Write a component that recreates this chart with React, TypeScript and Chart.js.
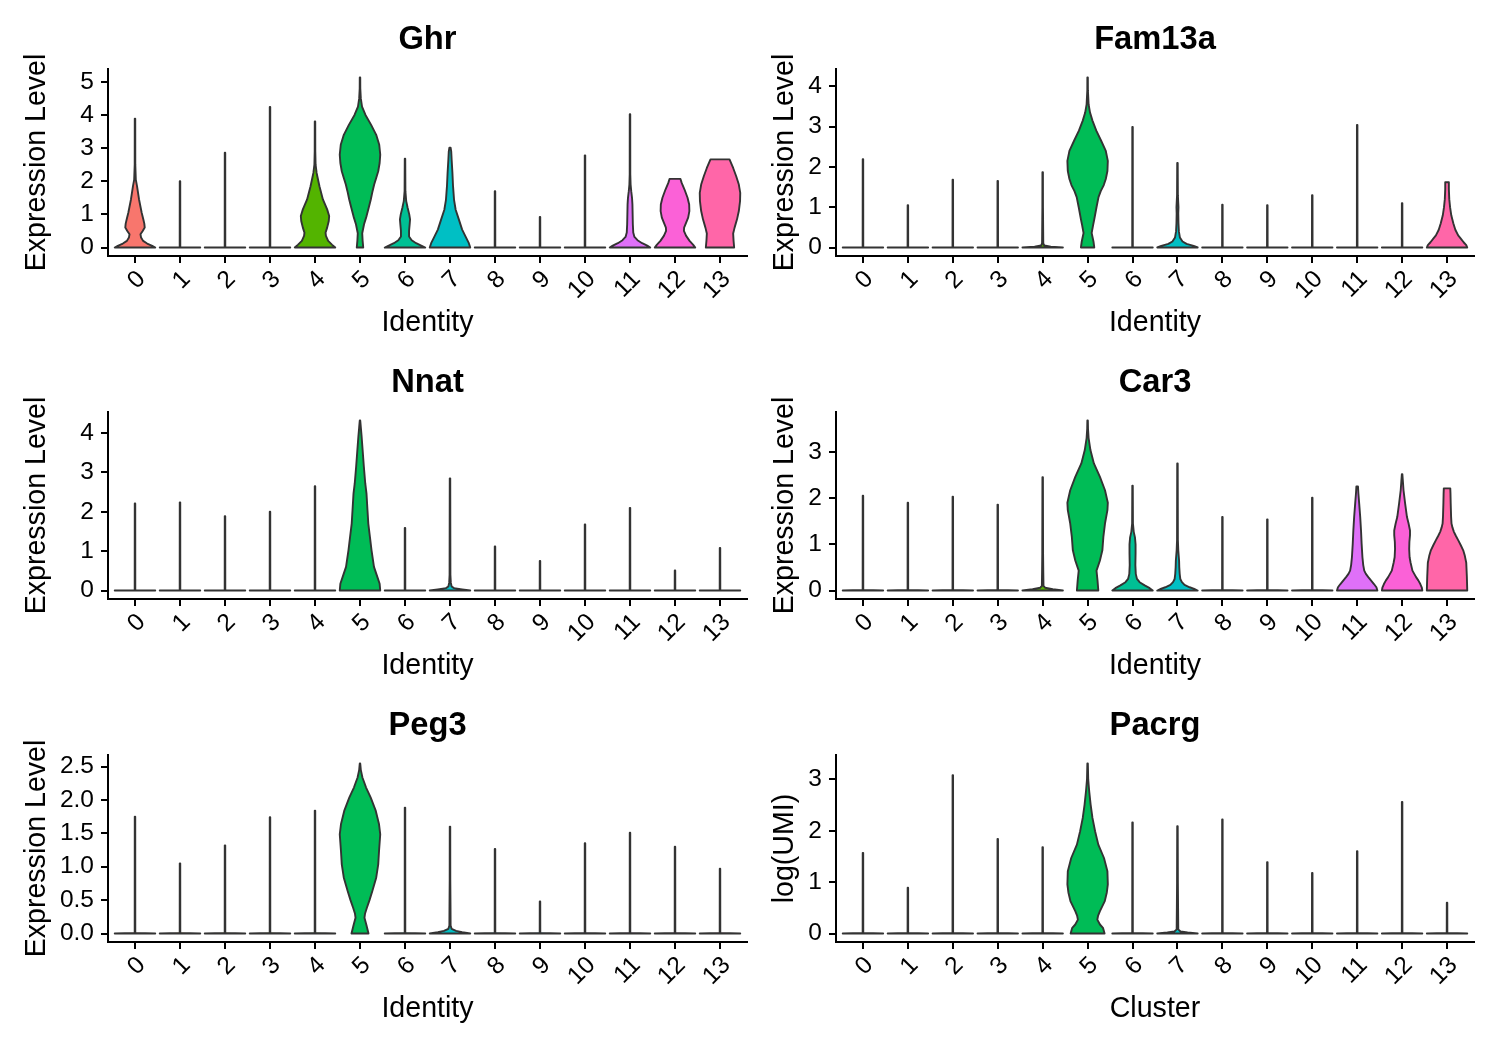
import React, { useEffect, useRef } from 'react';
import { Chart, registerables } from 'chart.js';

Chart.register(...registerables);

const FONT = "'Liberation Sans', Arial, Helvetica, sans-serif";

type Profile = [number, number][];

const clusters = ['0', '1', '2', '3', '4', '5', '6', '7', '8', '9', '10', '11', '12', '13'];
const clusterColors = [
  '#F8766D', '#E38900', '#C49A00', '#99A800', '#53B400', '#00BC56', '#00C094',
  '#00BFC4', '#00B6EB', '#06A4FF', '#A58AFF', '#DF70F8', '#FB61D7', '#FF66A8',
];

// Violins that are almost all zeros: a full-width foot and a hair-thin tail.
const spikeProfile: Profile = [[0, 1], [0.01, 0.015]];

// ---- Ghr ----
const ghrTops = [3.89, 2.0, 2.86, 4.24, 3.8, 5.13, 2.68, 3.01, 1.7, 0.92, 2.78, 4.02, 2.07, 2.66];
const ghrShapes: Record<number, Profile> = {
  0: [[0, 1], [0.05, 0.85], [0.12, 0.6], [0.2, 0.4], [0.3, 0.3], [0.4, 0.27], [0.5, 0.38], [0.6, 0.48], [0.72, 0.46], [0.85, 0.41], [1.05, 0.33], [1.45, 0.2], [1.85, 0.1], [2.05, 0.04], [2.5, 0.015]],
  4: [[0, 1], [0.08, 0.85], [0.2, 0.65], [0.35, 0.54], [0.45, 0.52], [0.6, 0.6], [0.8, 0.68], [0.95, 0.7], [1.15, 0.6], [1.45, 0.39], [1.85, 0.22], [2.25, 0.08], [2.5, 0.03], [2.9, 0.015]],
  5: [[0, 0.16], [0.2, 0.13], [0.43, 0.11], [0.7, 0.2], [0.94, 0.32], [1.2, 0.43], [1.44, 0.53], [1.7, 0.62], [1.9, 0.7], [2.1, 0.8], [2.3, 0.9], [2.55, 0.97], [2.8, 1.0], [3.1, 0.95], [3.4, 0.8], [3.7, 0.55], [4.0, 0.27], [4.25, 0.1], [4.5, 0.04], [4.8, 0.015]],
  6: [[0, 1], [0.06, 0.8], [0.13, 0.55], [0.22, 0.33], [0.33, 0.2], [0.5, 0.2], [0.7, 0.23], [0.85, 0.25], [1.0, 0.21], [1.2, 0.13], [1.4, 0.06], [1.7, 0.02]],
  7: [[0, 1], [0.13, 0.93], [0.33, 0.77], [0.54, 0.6], [0.84, 0.44], [1.14, 0.28], [1.44, 0.2], [1.85, 0.15], [2.25, 0.12], [2.66, 0.08], [2.9, 0.06], [3.01, 0.03]],
  11: [[0, 1], [0.06, 0.85], [0.13, 0.6], [0.22, 0.37], [0.32, 0.22], [0.45, 0.16], [0.7, 0.14], [1.0, 0.13], [1.3, 0.12], [1.5, 0.1], [1.7, 0.06], [1.9, 0.03], [2.2, 0.015]],
  12: [[0, 1], [0.08, 0.9], [0.2, 0.72], [0.35, 0.55], [0.5, 0.44], [0.6, 0.45], [0.75, 0.55], [0.9, 0.65], [1.1, 0.71], [1.3, 0.7], [1.5, 0.62], [1.75, 0.47], [1.95, 0.33], [2.07, 0.27]],
  13: [[0, 0.7], [0.2, 0.67], [0.42, 0.65], [0.6, 0.72], [0.85, 0.84], [1.1, 0.93], [1.4, 0.99], [1.65, 1.0], [1.9, 0.93], [2.15, 0.8], [2.4, 0.65], [2.66, 0.47]],
};
const ghrTicks = [0, 1, 2, 3, 4, 5];
const ghrTickLabels = ['0', '1', '2', '3', '4', '5'];

// ---- Fam13a ----
const fam13aTops = [2.19, 1.05, 1.68, 1.65, 1.87, 4.22, 2.99, 2.1, 1.06, 1.05, 1.3, 3.04, 1.1, 1.62];
const fam13aShapes: Record<number, Profile> = {
  4: [[0, 1], [0.02, 0.4], [0.05, 0.08], [0.1, 0.03], [0.4, 0.025], [0.7, 0.02], [1.0, 0.015]],
  5: [[0, 0.33], [0.15, 0.29], [0.36, 0.2], [0.55, 0.27], [0.7, 0.33], [1.0, 0.44], [1.25, 0.54], [1.4, 0.65], [1.55, 0.8], [1.7, 0.9], [1.9, 0.98], [2.15, 1.0], [2.4, 0.9], [2.65, 0.67], [2.9, 0.43], [3.15, 0.24], [3.35, 0.12], [3.55, 0.05], [3.9, 0.015]],
  7: [[0, 1], [0.04, 0.8], [0.09, 0.45], [0.15, 0.25], [0.25, 0.12], [0.4, 0.07], [0.6, 0.05], [0.85, 0.04], [1.0, 0.05], [1.1, 0.04], [1.3, 0.02]],
  13: [[0, 1], [0.06, 0.95], [0.13, 0.82], [0.22, 0.68], [0.3, 0.55], [0.44, 0.41], [0.6, 0.31], [0.8, 0.21], [1.0, 0.15], [1.2, 0.11], [1.45, 0.09], [1.62, 0.09]],
};
const fam13aTicks = [0, 1, 2, 3, 4];
const fam13aTickLabels = ['0', '1', '2', '3', '4'];

// ---- Nnat ----
const nnatTops = [2.21, 2.24, 1.89, 2.0, 2.65, 4.32, 1.59, 2.85, 1.12, 0.75, 1.68, 2.1, 0.51, 1.08];
const nnatShapes: Record<number, Profile> = {
  5: [[0, 1], [0.17, 0.97], [0.34, 0.86], [0.6, 0.69], [1.02, 0.57], [1.36, 0.49], [1.7, 0.41], [2.04, 0.37], [2.47, 0.32], [2.72, 0.26], [3.15, 0.19], [3.57, 0.13], [3.91, 0.08], [4.15, 0.04]],
  7: [[0, 1], [0.03, 0.6], [0.06, 0.2], [0.1, 0.08], [0.2, 0.04], [0.4, 0.02]],
};
const nnatTicks = [0, 1, 2, 3, 4];
const nnatTickLabels = ['0', '1', '2', '3', '4'];

// ---- Car3 ----
const car3Tops = [2.05, 1.9, 2.03, 1.86, 2.45, 3.68, 2.27, 2.75, 1.59, 1.54, 2.01, 2.25, 2.52, 2.21];
const car3Shapes: Record<number, Profile> = {
  4: [[0, 1], [0.03, 0.5], [0.06, 0.12], [0.1, 0.04], [0.4, 0.03], [0.8, 0.02]],
  5: [[0, 0.53], [0.22, 0.49], [0.43, 0.44], [0.65, 0.61], [0.87, 0.73], [1.16, 0.78], [1.45, 0.86], [1.74, 0.98], [1.9, 1.0], [2.17, 0.86], [2.46, 0.61], [2.75, 0.31], [3.04, 0.14], [3.3, 0.05], [3.5, 0.02]],
  6: [[0, 1], [0.05, 0.85], [0.11, 0.6], [0.18, 0.35], [0.25, 0.22], [0.36, 0.16], [0.55, 0.14], [0.8, 0.15], [1.0, 0.15], [1.15, 0.12], [1.27, 0.06], [1.45, 0.02]],
  7: [[0, 1], [0.04, 0.8], [0.07, 0.6], [0.12, 0.35], [0.18, 0.22], [0.25, 0.14], [0.36, 0.11], [0.5, 0.09], [0.65, 0.08], [0.87, 0.04], [1.1, 0.02]],
  11: [[0, 1], [0.07, 0.95], [0.14, 0.83], [0.22, 0.68], [0.29, 0.55], [0.36, 0.43], [0.43, 0.35], [0.55, 0.3], [0.72, 0.26], [1.01, 0.22], [1.3, 0.19], [1.59, 0.15], [1.88, 0.1], [2.1, 0.06], [2.25, 0.04]],
  12: [[0, 1], [0.07, 0.97], [0.14, 0.9], [0.22, 0.8], [0.29, 0.69], [0.43, 0.51], [0.6, 0.42], [0.72, 0.37], [0.9, 0.35], [1.05, 0.36], [1.2, 0.39], [1.3, 0.39], [1.45, 0.32], [1.59, 0.24], [1.88, 0.15], [2.17, 0.07], [2.35, 0.04]],
  13: [[0, 1], [0.3, 0.98], [0.6, 0.95], [0.75, 0.88], [0.87, 0.8], [0.98, 0.68], [1.09, 0.55], [1.18, 0.44], [1.27, 0.34], [1.36, 0.27], [1.45, 0.22], [1.6, 0.2], [1.9, 0.18], [2.1, 0.17], [2.21, 0.16]],
};
const car3Ticks = [0, 1, 2, 3];
const car3TickLabels = ['0', '1', '2', '3'];

// ---- Peg3 ----
const peg3Tops = [1.75, 1.05, 1.32, 1.74, 1.84, 2.545, 1.885, 1.6, 1.265, 0.48, 1.35, 1.51, 1.3, 0.97];
const peg3Shapes: Record<number, Profile> = {
  5: [[0, 0.42], [0.135, 0.31], [0.235, 0.22], [0.3, 0.25], [0.385, 0.34], [0.5, 0.47], [0.635, 0.61], [0.835, 0.8], [1.035, 0.9], [1.235, 0.94], [1.485, 1.0], [1.635, 0.94], [1.835, 0.78], [2.035, 0.53], [2.185, 0.3], [2.335, 0.12], [2.45, 0.04]],
  7: [[0, 1], [0.02, 0.6], [0.04, 0.3], [0.07, 0.08], [0.12, 0.03], [0.4, 0.025], [0.8, 0.015]],
};
const peg3Ticks = [0, 0.5, 1, 1.5, 2, 2.5];
const peg3TickLabels = ['0.0', '0.5', '1.0', '1.5', '2.0', '2.5'];

// ---- Pacrg ----
const pacrgTops = [1.57, 0.89, 3.08, 1.84, 1.68, 3.31, 2.16, 2.09, 2.22, 1.39, 1.18, 1.6, 2.56, 0.6];
const pacrgShapes: Record<number, Profile> = {
  5: [[0, 0.84], [0.11, 0.76], [0.175, 0.61], [0.27, 0.48], [0.35, 0.52], [0.435, 0.61], [0.63, 0.85], [0.8, 0.95], [0.955, 1.0], [1.21, 0.98], [1.47, 0.81], [1.73, 0.53], [1.99, 0.37], [2.25, 0.24], [2.51, 0.15], [2.77, 0.08], [3.0, 0.03]],
  7: [[0, 1], [0.02, 0.5], [0.04, 0.15], [0.08, 0.04], [0.5, 0.03], [1.0, 0.02]],
};
const pacrgTicks = [0, 1, 2, 3];
const pacrgTickLabels = ['0', '1', '2', '3'];

interface PanelSpec {
  gene: string;
  yTitle: string;
  xTitle: string;
  tops: number[];
  shapes: Record<number, Profile>;
  ticks: number[];
  tickLabels: string[];
  col: number;
  row: number;
}

const panels: PanelSpec[] = [
  { gene: 'Ghr', yTitle: 'Expression Level', xTitle: 'Identity', tops: ghrTops, shapes: ghrShapes, ticks: ghrTicks, tickLabels: ghrTickLabels, col: 0, row: 0 },
  { gene: 'Fam13a', yTitle: 'Expression Level', xTitle: 'Identity', tops: fam13aTops, shapes: fam13aShapes, ticks: fam13aTicks, tickLabels: fam13aTickLabels, col: 1, row: 0 },
  { gene: 'Nnat', yTitle: 'Expression Level', xTitle: 'Identity', tops: nnatTops, shapes: nnatShapes, ticks: nnatTicks, tickLabels: nnatTickLabels, col: 0, row: 1 },
  { gene: 'Car3', yTitle: 'Expression Level', xTitle: 'Identity', tops: car3Tops, shapes: car3Shapes, ticks: car3Ticks, tickLabels: car3TickLabels, col: 1, row: 1 },
  { gene: 'Peg3', yTitle: 'Expression Level', xTitle: 'Identity', tops: peg3Tops, shapes: peg3Shapes, ticks: peg3Ticks, tickLabels: peg3TickLabels, col: 0, row: 2 },
  { gene: 'Pacrg', yTitle: 'log(UMI)', xTitle: 'Cluster', tops: pacrgTops, shapes: pacrgShapes, ticks: pacrgTicks, tickLabels: pacrgTickLabels, col: 1, row: 2 },
];

const CANVAS_W = 750;
const CANVAS_H = 343;
const TICK_SIZE = 24.5;
const AXIS_TITLE_SIZE = 28.6;
const TITLE_SIZE = 32.7;
// column-dependent geometry (the left column carries wider tick labels)
const axisWidth = [108, 86];
const rightPad = [3, 26];
const yTitlePad = [20.3, 17.8];

function makeViolinPlugin(shapes: Record<number, Profile>) {
  return {
    id: 'violins',
    afterDatasetsDraw(chart: any) {
      const { ctx } = chart;
      const xs = chart.scales.x;
      const ys = chart.scales.y;
      const pts = chart.data.datasets[0].data as { x: number; y: number }[];
      ctx.save();
      ctx.lineJoin = 'round';
      ctx.lineCap = 'round';
      ctx.lineWidth = 1.9;
      ctx.strokeStyle = '#333333';
      pts.forEach(({ x, y: top }) => {
        const prof: Profile = (shapes[x] ?? spikeProfile)
          .filter(([v]) => v <= top + 1e-9)
          .map(([v, f]) => [v, f] as [number, number]);
        if (prof[prof.length - 1][0] < top - 1e-9) prof.push([top, 0.012]);
        const cx = xs.getPixelForValue(x);
        const hw = xs.getPixelForValue(x + 0.45) - cx;
        ctx.beginPath();
        prof.forEach(([v, f], k) => {
          const px = cx + f * hw;
          const py = ys.getPixelForValue(v);
          if (k === 0) ctx.moveTo(px, py);
          else ctx.lineTo(px, py);
        });
        for (let k = prof.length - 1; k >= 0; k--) {
          const [v, f] = prof[k];
          ctx.lineTo(cx - f * hw, ys.getPixelForValue(v));
        }
        ctx.closePath();
        ctx.fillStyle = clusterColors[x];
        ctx.fill();
        ctx.stroke();
      });
      ctx.restore();
    },
  };
}

function ViolinPanel({ p }: { p: PanelSpec }) {
  const ref = useRef<HTMLCanvasElement>(null);
  useEffect(() => {
    if (!ref.current) return;
    const yMax = Math.max(...p.tops);
    const axisLine = { display: true, color: '#000', width: 2 };
    const tickMarks = { display: true, drawOnChartArea: false, drawTicks: true, tickLength: 7, color: '#000', lineWidth: 2 };
    const chart = new Chart(ref.current, {
      type: 'scatter',
      data: {
        datasets: [
          {
            data: p.tops.map((t, i) => ({ x: i, y: t })),
            pointRadius: 0,
            pointHoverRadius: 0,
          },
        ],
      },
      options: {
        responsive: false,
        animation: false,
        devicePixelRatio: 1,
        events: [],
        layout: { padding: { left: 0, top: 0, bottom: 0, right: rightPad[p.col] } },
        plugins: {
          legend: { display: false },
          tooltip: { enabled: false },
          title: {
            display: true,
            text: p.gene,
            fullSize: false,
            color: '#000',
            font: { family: FONT, size: TITLE_SIZE, weight: 'bold' },
            padding: { top: 20.4, bottom: 9.36 },
          },
        },
        scales: {
          x: {
            type: 'linear',
            min: -0.6,
            max: 13.6,
            afterBuildTicks: (s: any) => {
              s.ticks = clusters.map((_, i) => ({ value: i }));
            },
            afterFit: (s: any) => {
              s.height = 87;
            },
            ticks: {
              autoSkip: false,
              minRotation: 45,
              maxRotation: 45,
              padding: 2,
              labelOffset: 6.5,
              color: '#000',
              font: { family: FONT, size: TICK_SIZE },
              callback: (_v: any, idx: number) => clusters[idx],
            },
            grid: tickMarks,
            border: axisLine,
            title: {
              display: true,
              text: p.xTitle,
              color: '#000',
              font: { family: FONT, size: AXIS_TITLE_SIZE },
              padding: { top: 0, bottom: 2.5 },
            },
          },
          y: {
            type: 'linear',
            min: -0.05 * yMax,
            max: 1.05 * yMax,
            afterBuildTicks: (s: any) => {
              s.ticks = p.ticks.map((v) => ({ value: v }));
            },
            afterFit: (s: any) => {
              s.width = axisWidth[p.col];
            },
            ticks: {
              padding: 7,
              color: '#000',
              font: { family: FONT, size: TICK_SIZE },
              callback: (_v: any, idx: number) => p.tickLabels[idx],
            },
            grid: tickMarks,
            border: axisLine,
            title: {
              display: true,
              text: p.yTitle,
              color: '#000',
              font: { family: FONT, size: AXIS_TITLE_SIZE },
              padding: { top: yTitlePad[p.col], bottom: 0 },
            },
          },
        },
      } as any,
      plugins: [makeViolinPlugin(p.shapes)],
    });
    return () => chart.destroy();
  }, [p]);
  return (
    <canvas
      ref={ref}
      width={CANVAS_W}
      height={CANVAS_H}
      style={{ position: 'absolute', left: p.col * CANVAS_W, top: p.row * CANVAS_H, width: CANVAS_W, height: CANVAS_H }}
    />
  );
}

export default function App() {
  return (
    <div style={{ position: 'absolute', left: 0, top: 0, width: 1500, height: 1050, background: '#fff' }}>
      {panels.map((p) => (
        <ViolinPanel key={p.gene} p={p} />
      ))}
    </div>
  );
}
